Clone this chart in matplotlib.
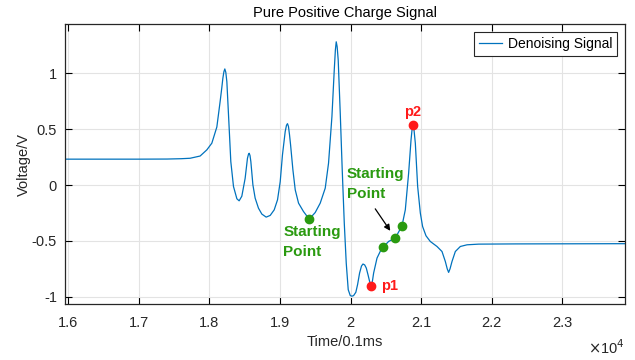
import numpy as np
import matplotlib
matplotlib.use('Agg')
import matplotlib.pyplot as plt
from matplotlib.ticker import FuncFormatter

plt.rcParams['font.family'] = ['Liberation Sans', 'DejaVu Sans']

# signal (time in 0.1ms units, voltage in V)
time_pts = [15957, 16500, 17000, 17400, 17600, 17726, 17868, 17963, 18034, 18105,
            18152, 18175, 18190, 18205, 18218, 18232, 18247, 18275, 18303, 18341,
            18389, 18421, 18459, 18506, 18539, 18553, 18563, 18575, 18587, 18616,
            18648, 18695, 18743, 18804, 18861, 18918, 18965, 19003, 19035, 19074,
            19092, 19106, 19120, 19135, 19150, 19183, 19216, 19263, 19333, 19414,
            19499, 19570, 19641, 19688, 19736, 19769, 19785, 19797, 19810, 19825,
            19854, 19882, 19911, 19939, 19967, 19996, 20020, 20043, 20075, 20100,
            20128, 20155, 20176, 20200, 20223, 20250, 20270, 20294, 20310, 20327,
            20375, 20420, 20459, 20539, 20634, 20729, 20776, 20823, 20857, 20872,
            20885, 20900, 20918, 20951, 20989, 21021, 21069, 21130, 21225, 21296,
            21343, 21370, 21390, 21410, 21438, 21485, 21556, 21651, 21815, 22336,
            23890]
volt_pts = [0.232, 0.232, 0.232, 0.233, 0.236, 0.24, 0.26, 0.315, 0.375, 0.52,
            0.75, 0.87, 0.955, 1.015, 1.04, 1.01, 0.925, 0.57, 0.21, -0.013,
            -0.123, -0.141, -0.10, 0.06, 0.24, 0.275, 0.285, 0.265, 0.21, 0.002,
            -0.117, -0.207, -0.26, -0.287, -0.272, -0.222, -0.132, 0.03, 0.27, 0.48,
            0.535, 0.55, 0.525, 0.45, 0.36, 0.136, -0.043, -0.162, -0.237, -0.305,
            -0.246, -0.162, -0.028, 0.196, 0.613, 1.03, 1.21, 1.283, 1.24, 1.12,
            0.643, 0.136, -0.34, -0.70, -0.937, -0.99, -0.995, -0.99, -0.96, -0.89,
            -0.788, -0.725, -0.707, -0.715, -0.743, -0.81, -0.863, -0.90, -0.86, -0.788,
            -0.654, -0.595, -0.559, -0.505, -0.475, -0.365, -0.222, 0.106, 0.404, 0.50,
            0.538, 0.49, 0.375, -0.013, -0.251, -0.371, -0.454, -0.505, -0.55, -0.595,
            -0.684, -0.75, -0.782, -0.75, -0.684, -0.595, -0.55, -0.535, -0.529, -0.527,
            -0.525]

start_t = [19414, 20459, 20634, 20729]
start_v = [-0.305, -0.559, -0.475, -0.365]
peak_t = [20294, 20885]
peak_v = [-0.90, 0.538]
peak_names = ['p1', 'p2']

green = '#2a9a10'
red = '#ff1a1a'

fig = plt.figure(figsize=(6.35, 3.6), dpi=100)
ax = fig.add_axes([0.1028, 0.1556, 0.8815, 0.777])

ax.plot(time_pts, volt_pts, color='#0072BD', lw=0.9, label='Denoising Signal')
ax.plot(start_t, start_v, 'o', color=green, ms=6, zorder=5)
ax.plot(peak_t, peak_v, 'o', color=red, ms=6, zorder=5)

ax.text(peak_t[0] + 140, peak_v[0], peak_names[0], color=red, fontsize=10.5,
        fontweight='bold', ha='left', va='center')
ax.text(peak_t[1], peak_v[1] + 0.12, peak_names[1], color=red, fontsize=10.5,
        fontweight='bold', ha='center', va='center')

ax.text(19045, -0.36, 'Starting\nPoint', color=green, fontsize=11, fontweight='bold',
        ha='left', va='top', linespacing=1.5)
ax.text(19951, 0.16, 'Starting\nPoint', color=green, fontsize=11, fontweight='bold',
        ha='left', va='top', linespacing=1.5)
ax.annotate('', xy=(20563, -0.41), xytext=(20350, -0.213),
            arrowprops=dict(arrowstyle='-|>', color='k', lw=0.9, mutation_scale=9,
                            shrinkA=0, shrinkB=0))

ax.set_xlim(15957, 23890)
ax.set_ylim(-1.065, 1.44)
ax.set_xticks(np.arange(16000, 23500, 1000))
ax.set_yticks([-1, -0.5, 0, 0.5, 1])
ax.xaxis.set_major_formatter(FuncFormatter(lambda v, p: '%g' % (v / 1e4)))
ax.yaxis.set_major_formatter(FuncFormatter(lambda v, p: '%g' % v))
ax.tick_params(direction='in', top=True, right=True, length=5, width=0.8,
               labelsize=10.5, labelcolor='#262626')
ax.tick_params(axis='x', pad=9)
ax.tick_params(axis='y', pad=6)
ax.grid(True, color='#e3e3e3', lw=0.8)
ax.set_axisbelow(True)
for s in ax.spines.values():
    s.set_color('#262626')
    s.set_linewidth(0.9)

ax.set_title('Pure Positive Charge Signal', fontsize=10.5, color='k', pad=5)
ax.set_xlabel('Time/0.1ms', fontsize=10.5, color='#262626', labelpad=3)
ax.set_ylabel('Voltage/V', fontsize=10.5, color='#262626')
ax.yaxis.set_label_coords(-0.062, 0.5)
fig.text(0.984, 0.008, r'$\times$10$^4$', fontsize=10.5, color='#262626',
         ha='right', va='bottom')

leg = ax.legend(loc='upper right', fontsize=10, frameon=True, fancybox=False,
                edgecolor='#262626', framealpha=1, borderaxespad=0.55,
                handlelength=1.7, handletextpad=0.4, borderpad=0.35)
leg.get_frame().set_linewidth(0.8)

fig.savefig('out.png', dpi=100)
